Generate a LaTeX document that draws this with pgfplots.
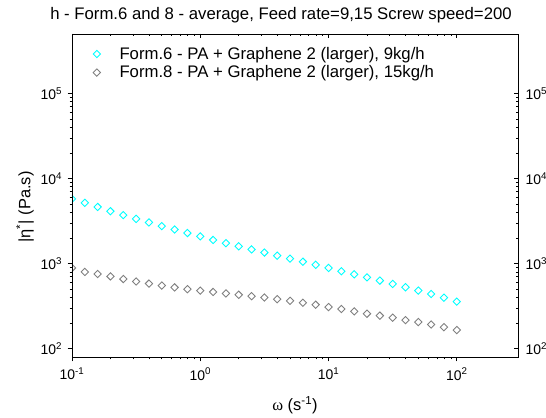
\documentclass[border=0pt]{standalone}
\usepackage{fontspec}
\setmainfont{Liberation Sans}
\newfontfamily\serifgreek{Liberation Serif}
\usepackage{pgfplots}
\pgfplotsset{compat=1.18}
\definecolor{cy}{RGB}{0,255,255}
\definecolor{gr}{RGB}{128,128,128}
\begin{document}
\begin{tikzpicture}
\begin{loglogaxis}[
  scale only axis, width=446bp, height=323bp,
  at={(0,0)}, anchor=south west,
  xmin=0.1, xmax=300, ymin=80, ymax=5e5,
  xtick={0.1,1,10,100},
  ytick={100,1000,10000,100000},
  major tick length=4.5bp, minor tick length=2.5bp,
  axis line style={line width=0.9pt},
  tick style={black, line width=0.8pt},
  tick label style={font=\fontsize{14}{16}\selectfont},
  xtick pos=left, ytick pos=left, tick align=outside,
  xticklabels={10\textsuperscript{-1},10\textsuperscript{0},10\textsuperscript{1},10\textsuperscript{2}},
  yticklabels={10\textsuperscript{2},10\textsuperscript{3},10\textsuperscript{4},10\textsuperscript{5}},
  xticklabel style={yshift=-3bp},
  yticklabel style={xshift=-2bp},
  clip marker paths=true,
  legend style={at={(0,1)}, anchor=north west, xshift=18bp, yshift=-9bp,
    draw=none, fill=none, row sep=1bp, font=\fontsize{16.8}{19}\selectfont},
  legend cell align=left,
]
\addplot[only marks, mark=square, mark size=2.6pt, mark options={rotate=45, draw=cy, line width=0.9pt}] coordinates {
(0.1,5780)(0.1259,5190)(0.1585,4640)(0.1995,4130)(0.2512,3720)(0.3162,3360)(0.3981,3050)(0.5012,2760)(0.631,2520)(0.7943,2290)
(1,2090)(1.259,1900)(1.585,1740)(1.995,1600)(2.512,1470)(3.162,1350)(3.981,1240)(5.012,1145)(6.31,1055)(7.943,970)
(10,890)(12.59,815)(15.85,750)(19.95,690)(25.12,632)(31.62,578)(39.81,528)(50.12,483)(63.1,440)(79.43,398)(100,358)
};
\addlegendentry{\hspace*{17bp}Form.6 - PA + Graphene 2 (larger), 9kg/h}
\addplot[only marks, mark=square, mark size=2.6pt, mark options={rotate=45, draw=gr, line width=0.9pt}] coordinates {
(0.1,890)(0.1259,800)(0.1585,755)(0.1995,708)(0.2512,660)(0.3162,618)(0.3981,583)(0.5012,553)(0.631,526)(0.7943,501)
(1,482)(1.259,465)(1.585,447)(1.995,431)(2.512,415)(3.162,400)(3.981,382)(5.012,366)(6.31,347)(7.943,329)
(10,309)(12.59,293)(15.85,275)(19.95,258)(25.12,245)(31.62,232)(39.81,217)(50.12,206)(63.1,193)(79.43,179)(100,166)
};
\addlegendentry{\hspace*{17bp}Form.8 - PA + Graphene 2 (larger), 15kg/h}
\end{loglogaxis}
\begin{loglogaxis}[
  scale only axis, width=446bp, height=323bp,
  at={(0,0)}, anchor=south west,
  xmin=0.1, xmax=300, ymin=80, ymax=5e5,
  xtick={0.1,1,10,100},
  ytick={100,1000,10000,100000},
  major tick length=4.5bp, minor tick length=2.5bp,
  axis line style={line width=0.9pt},
  tick style={black, line width=0.8pt},
  tick label style={font=\fontsize{14}{16}\selectfont},
  xtick pos=right, ytick pos=right, tick align=inside,
  xticklabels={}, yticklabel pos=right,
  yticklabel style={xshift=4bp, overlay},
  yticklabels={10\textsuperscript{2},10\textsuperscript{3},10\textsuperscript{4},10\textsuperscript{5}},
]
\end{loglogaxis}
\node[anchor=base, font=\fontsize{16.8}{19}\selectfont, overlay] at (209bp,337bp) {h - Form.6 and 8 - average, Feed rate=9,15 Screw speed=200};
\node[rotate=90, font=\fontsize{16.5}{19}\selectfont] at (-47bp,150bp) {|η\textsuperscript{*}| (Pa.s)};
\node[font=\fontsize{16.5}{19}\selectfont] at (223bp,-48bp) {{\serifgreek ω} (s\textsuperscript{-1})};
\path (-72bp,-60bp) rectangle (474bp,357bp);
\end{tikzpicture}
\end{document}
